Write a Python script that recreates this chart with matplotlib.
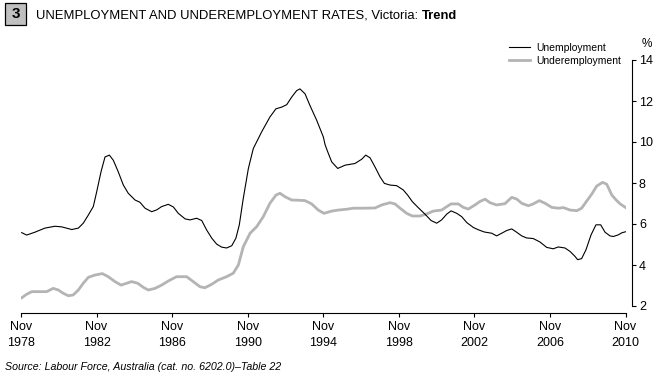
import matplotlib
matplotlib.use("Agg")
import matplotlib.pyplot as plt
from matplotlib.patches import Rectangle

# unemployment rate, Victoria, trend (%)
unemp_t = [1978.87, 1979.13, 1979.57, 1980.10, 1980.63, 1980.99, 1981.52, 1981.87, 1982.13, 1982.40,
           1982.66, 1982.84, 1983.07, 1983.28, 1983.51, 1983.72, 1983.98, 1984.25, 1984.51, 1984.87,
           1985.13, 1985.40, 1985.75, 1986.02, 1986.28, 1986.63, 1986.90, 1987.16, 1987.52, 1987.78,
           1988.13, 1988.40, 1988.66, 1988.93, 1989.19, 1989.46, 1989.72, 1989.99, 1990.21, 1990.39,
           1990.60, 1990.87, 1991.13, 1991.57, 1992.01, 1992.33, 1992.63, 1992.90, 1993.16, 1993.43,
           1993.60, 1993.87, 1994.13, 1994.49, 1994.84, 1994.93, 1995.07, 1995.28, 1995.60, 1995.99,
           1996.51, 1996.87, 1997.08, 1997.31, 1997.57, 1997.84, 1998.07, 1998.37, 1998.72, 1999.07,
           1999.30, 1999.55, 1999.86, 2000.22, 2000.54, 2000.84, 2001.10, 2001.37, 2001.60, 2001.90,
           2002.16, 2002.43, 2002.78, 2003.04, 2003.36, 2003.75, 2004.01, 2004.28, 2004.54, 2004.81,
           2005.07, 2005.34, 2005.60, 2005.95, 2006.31, 2006.66, 2007.01, 2007.27, 2007.63, 2007.90,
           2008.16, 2008.30, 2008.51, 2008.74, 2009.01, 2009.27, 2009.52, 2009.75, 2010.01, 2010.19,
           2010.45, 2010.64, 2010.83]
unemp = [5.58, 5.46, 5.60, 5.80, 5.89, 5.86, 5.73, 5.80, 6.04, 6.44,
         6.85, 7.57, 8.55, 9.27, 9.36, 9.11, 8.55, 7.90, 7.50, 7.17,
         7.06, 6.77, 6.60, 6.69, 6.85, 6.96, 6.83, 6.52, 6.25, 6.20,
         6.28, 6.17, 5.71, 5.31, 5.02, 4.87, 4.83, 4.94, 5.31, 5.96,
         7.25, 8.71, 9.68, 10.49, 11.22, 11.62, 11.70, 11.82, 12.19, 12.51,
         12.59, 12.35, 11.78, 11.05, 10.24, 9.87, 9.52, 9.03, 8.71, 8.87,
         8.95, 9.16, 9.36, 9.23, 8.79, 8.30, 7.98, 7.90, 7.87, 7.66,
         7.41, 7.09, 6.80, 6.48, 6.17, 6.04, 6.20, 6.48, 6.64, 6.52,
         6.36, 6.07, 5.83, 5.72, 5.61, 5.55, 5.42, 5.55, 5.68, 5.76,
         5.60, 5.42, 5.32, 5.29, 5.12, 4.86, 4.79, 4.88, 4.83, 4.66,
         4.42, 4.26, 4.31, 4.74, 5.47, 5.96, 5.96, 5.60, 5.42, 5.39,
         5.47, 5.57, 5.62]

# underemployment rate, Victoria, trend (%)
under_t = [1978.87, 1979.13, 1979.40, 1979.75, 1980.19, 1980.54, 1980.81, 1981.07, 1981.34, 1981.60,
           1981.87, 1982.13, 1982.40, 1982.75, 1983.14, 1983.45, 1983.81, 1984.13, 1984.43, 1984.69,
           1985.01, 1985.31, 1985.57, 1985.93, 1986.28, 1986.63, 1987.07, 1987.60, 1987.95, 1988.31,
           1988.57, 1988.93, 1989.28, 1989.72, 1990.07, 1990.34, 1990.60, 1990.96, 1991.31, 1991.66,
           1992.01, 1992.33, 1992.54, 1992.81, 1993.16, 1993.51, 1993.87, 1994.22, 1994.57, 1994.87,
           1995.28, 1995.63, 1996.07, 1996.43, 1996.87, 1997.57, 1997.93, 1998.37, 1998.63, 1998.90,
           1999.25, 1999.55, 1999.96, 2000.31, 2000.66, 2001.10, 2001.31, 2001.60, 2001.98, 2002.25,
           2002.51, 2002.87, 2003.13, 2003.40, 2003.66, 2004.01, 2004.45, 2004.81, 2005.07, 2005.34,
           2005.69, 2005.95, 2006.27, 2006.58, 2006.93, 2007.29, 2007.55, 2007.90, 2008.26, 2008.51,
           2008.78, 2009.04, 2009.31, 2009.62, 2009.84, 2010.11, 2010.34, 2010.55, 2010.83]
under = [2.40, 2.57, 2.70, 2.70, 2.70, 2.86, 2.78, 2.62, 2.50, 2.54,
         2.78, 3.11, 3.40, 3.51, 3.58, 3.43, 3.19, 3.02, 3.11, 3.19,
         3.11, 2.91, 2.78, 2.86, 3.02, 3.22, 3.43, 3.43, 3.19, 2.94,
         2.89, 3.06, 3.27, 3.43, 3.60, 4.00, 4.89, 5.55, 5.87, 6.36,
         7.01, 7.41, 7.50, 7.33, 7.17, 7.16, 7.14, 6.98, 6.68, 6.52,
         6.63, 6.68, 6.72, 6.77, 6.77, 6.78, 6.93, 7.04, 6.98, 6.77,
         6.52, 6.39, 6.39, 6.49, 6.63, 6.68, 6.81, 6.98, 6.98, 6.81,
         6.73, 6.93, 7.10, 7.21, 7.04, 6.93, 6.99, 7.30, 7.22, 7.01,
         6.89, 6.98, 7.14, 7.01, 6.81, 6.77, 6.80, 6.68, 6.65, 6.77,
         7.12, 7.45, 7.85, 8.03, 7.94, 7.41, 7.17, 6.98, 6.81]

tick_years = [1978, 1982, 1986, 1990, 1994, 1998, 2002, 2006, 2010]
tick_labels = ["Nov\n%d" % y for y in tick_years]
y_ticks = [2, 4, 6, 8, 10, 12, 14]

plt.rcParams['font.family'] = ['Liberation Sans', 'DejaVu Sans']

W, H = 661, 378
fig = plt.figure(figsize=(W / 100, H / 100), dpi=100)
ax = fig.add_axes([21 / W, (H - 306) / H, 604.5 / W, 246 / H])

ax.plot(under_t, under, color='#b4b4b4', lw=2.0, label='Underemployment', zorder=2)
ax.plot(unemp_t, unemp, color='black', lw=0.8, label='Unemployment', zorder=3)

ax.set_xlim(1978 + 10 / 12, 2010 + 10 / 12)
ax.set_ylim(2, 14)

for s in ['left', 'top']:
    ax.spines[s].set_visible(False)
ax.spines['right'].set_position(('outward', 4.7))
ax.spines['right'].set_bounds(2, 14)
ax.spines['bottom'].set_position(('outward', 5))
ax.spines['right'].set_linewidth(0.8)
ax.spines['bottom'].set_linewidth(0.8)

ax.set_xticks([y + 10 / 12 for y in tick_years])
ax.set_xticklabels(tick_labels, fontsize=9, linespacing=1.4)
ax.tick_params(axis='x', direction='out', length=3, width=0.8, pad=3)

ax.yaxis.tick_right()
ax.set_yticks(y_ticks)
ax.set_yticklabels([str(v) for v in y_ticks], fontsize=9)
ax.tick_params(axis='y', direction='out', length=3, width=0.8, pad=2)

handles, labels = ax.get_legend_handles_labels()
leg = ax.legend(handles[::-1], labels[::-1], loc='upper right', bbox_to_anchor=(621 / W, 1 - 43 / H),
                bbox_transform=fig.transFigure, frameon=False, fontsize=7.5, handlelength=2.0,
                handletextpad=0.6, labelspacing=0.25, borderpad=0, borderaxespad=0)

fig.text(642 / W, 1 - 44 / H, '%', fontsize=8.5, ha='left', va='center')

# chart number box and title
fig.patches.append(Rectangle((5 / W, 1 - 25 / H), 21 / W, 22 / H, transform=fig.transFigure,
                             facecolor='#c0c0c0', edgecolor='black', lw=0.9))
fig.text(15.5 / W, 1 - 14 / H, '3', fontsize=11, fontweight='bold', ha='center', va='center')
t1 = fig.text(36 / W, 1 - 16 / H, 'UNEMPLOYMENT AND UNDEREMPLOYMENT RATES, Victoria: ',
              fontsize=9.4, ha='left', va='center')
fig.canvas.draw()
bb = t1.get_window_extent()
fig.text(bb.x1 / W, 1 - 16 / H, 'Trend', fontsize=9.4, fontweight='bold', ha='left', va='center')

fig.text(5 / W, 1 - 367 / H, 'Source: Labour Force, Australia (cat. no. 6202.0)\u2013Table 22',
         fontsize=7.7, style='italic', ha='left', va='center')

fig.savefig('out.png', dpi=100)
